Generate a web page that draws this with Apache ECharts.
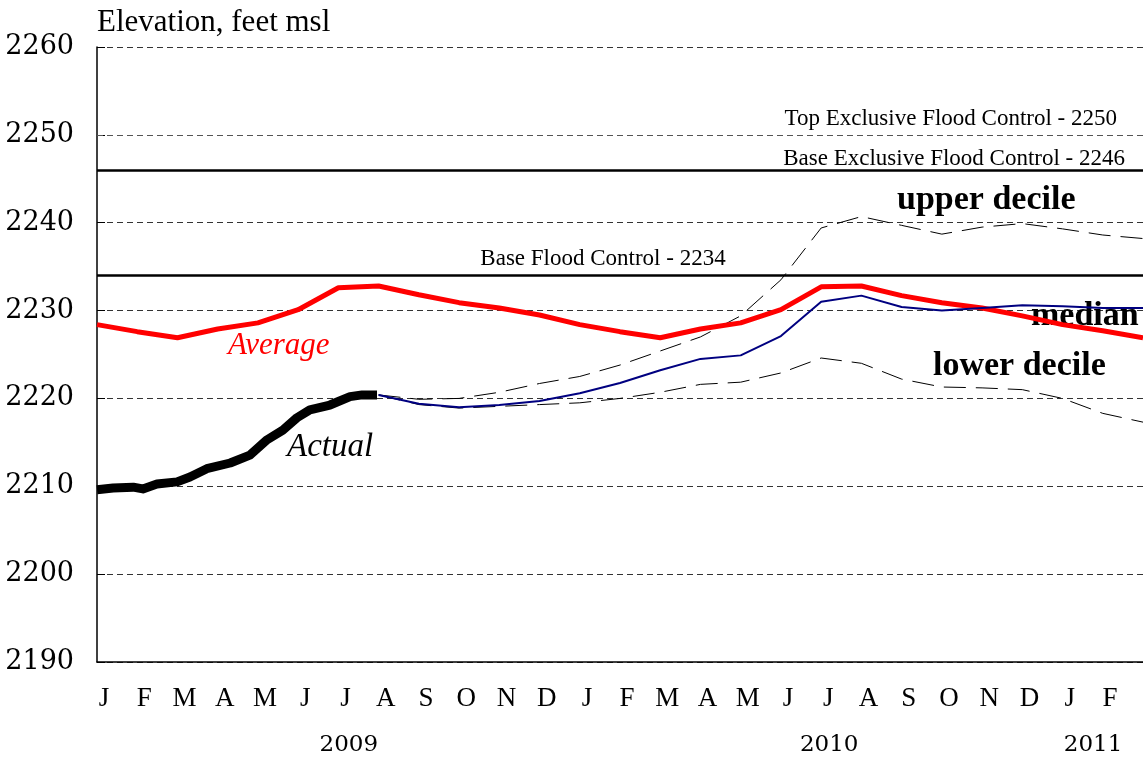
<!DOCTYPE html>
<html>
<head>
<meta charset="utf-8">
<title>Elevation</title>
<script src="https://cdn.jsdelivr.net/npm/echarts@6/dist/echarts.min.js"></script>
<style>
  html, body { margin: 0; padding: 0; background: #fff; }
  #chart { width: 1143px; height: 760px; }
</style>
</head>
<body>
<div id="chart"></div>
<script>
// month labels, Jan 2009 .. Feb 2011
var months = ['J','F','M','A','M','J','J','A','S','O','N','D','J','F','M','A','M','J','J','A','S','O','N','D','J','F'];
var years = ['2009', '2010', '2011'];
var yearPos = [6.26, 18.2, 24.76];   // in months from Jan 1 2009

// month-end values, index 0 = start of Jan 2009
var average = [2228.4, 2227.6, 2226.9, 2227.9, 2228.6, 2230.1, 2232.6, 2232.8, 2231.8, 2230.9, 2230.3, 2229.5, 2228.4,
               2227.6, 2226.9, 2227.9, 2228.6, 2230.1, 2232.7, 2232.8, 2231.7, 2230.9, 2230.3, 2229.4, 2228.4, 2227.7, 2226.9];
// forecasts start at index 7 (end of Jul 2009)
var forecastStart = 7;
var median = [2220.4, 2219.4, 2219.0, 2219.25, 2219.7, 2220.6, 2221.75, 2223.2, 2224.5, 2224.9, 2227.1,
              2231.0, 2231.7, 2230.4, 2230.0, 2230.3, 2230.6, 2230.5, 2230.3, 2230.3];
var upper = [2220.4, 2219.9, 2220.0, 2220.7, 2221.7, 2222.5, 2223.8, 2225.4, 2227.0, 2229.4, 2233.5,
             2239.4, 2240.7, 2239.7, 2238.7, 2239.5, 2239.9, 2239.3, 2238.6, 2238.2];
var lower = [2220.4, 2219.3, 2218.9, 2219.1, 2219.3, 2219.5, 2220.0, 2220.7, 2221.6, 2221.85, 2222.9,
             2224.6, 2224.0, 2222.2, 2221.3, 2221.2, 2221.0, 2220.0, 2218.3, 2217.3];
// observed elevation, [month, feet]
var actualT = [0, 0.4, 0.9, 1.14, 1.49, 1.99, 2.31, 2.73, 3.31, 3.8, 4.23, 4.62, 4.97, 5.29, 5.79, 6.29, 6.59, 6.96];
var actualV = [2209.6, 2209.8, 2209.9, 2209.7, 2210.25, 2210.5, 2211.05, 2212.0, 2212.65, 2213.55, 2215.3, 2216.4,
               2217.8, 2218.7, 2219.25, 2220.2, 2220.4, 2220.4];

var floodLevels = [2250, 2246, 2234];
var floodNames = ['Top Exclusive Flood Control - 2250', 'Base Exclusive Flood Control - 2246', 'Base Flood Control - 2234'];

function monthly(arr, start) {
    return arr.map(function (v, i) { return [i + start, v]; });
}

var serif = 'Liberation Serif';
var chart = echarts.init(document.getElementById('chart'));

var flLines = [
    { yAxis: floodLevels[0], lineStyle: { color: '#555', width: 1, type: [6, 4] },
      label: { position: 'insideEndTop', distance: 4, padding: [0, 22, 0, 0] } },
    { yAxis: floodLevels[1], lineStyle: { color: '#000', width: 2.5, type: 'solid' },
      label: { position: 'insideEndTop', distance: 0, padding: [0, 18, 0, 0] } },
    { yAxis: floodLevels[2], lineStyle: { color: '#000', width: 2.5, type: 'solid' },
      label: { position: 'insideMiddleTop', distance: 5, padding: [0, 34, 0, 0] } }
];
flLines.forEach(function (d, i) {
    d.label.formatter = floodNames[i];
    d.label.fontFamily = serif;
    d.label.fontSize = 23;
    d.label.color = '#000';
});

chart.setOption({
    animation: false,
    grid: [
        { left: 97, right: 0, top: 47, bottom: 98, containLabel: false, outerBoundsMode: 'none' },
        { left: 84, right: 13, top: 47, bottom: 98, containLabel: false, outerBoundsMode: 'none' }
    ],
    xAxis: [
        {
            type: 'value', gridIndex: 0, min: 0, max: 26,
            axisLine: { lineStyle: { color: '#000', width: 1.5 } },
            axisTick: { show: false },
            axisLabel: { show: false },
            splitLine: { show: false }
        },
        {
            type: 'category', gridIndex: 1, data: months, boundaryGap: true,
            axisLine: { show: false },
            axisTick: { show: false },
            axisLabel: { fontFamily: serif, fontSize: 27, color: '#000', margin: 23, interval: 0 }
        }
    ],
    yAxis: [
        {
            type: 'value', gridIndex: 0, min: 2190, max: 2260, interval: 10,
            name: 'Elevation, feet msl',
            nameLocation: 'end',
            nameGap: 9,
            nameTextStyle: { fontFamily: serif, fontSize: 31, color: '#000', align: 'left' },
            axisLine: { show: true, lineStyle: { color: '#000', width: 1.5 } },
            axisTick: { show: true, inside: true, length: 8, lineStyle: { color: '#000' } },
            axisLabel: { fontFamily: 'DejaVu Serif', fontSize: 27, color: '#000', margin: 23,
                         formatter: function (v) { return String(v); } },
            splitLine: { show: true, lineStyle: { color: '#333', width: 1, type: [6, 4] } }
        },
        { type: 'value', gridIndex: 1, show: false }
    ],
    series: [
        {
            name: 'upper decile', type: 'line', xAxisIndex: 0, yAxisIndex: 0,
            data: monthly(upper, forecastStart), symbol: 'none',
            lineStyle: { color: '#000', width: 1, type: [22, 10] },
            markLine: { silent: true, symbol: 'none', data: flLines }
        },
        {
            name: 'lower decile', type: 'line', data: monthly(lower, forecastStart), symbol: 'none',
            lineStyle: { color: '#000', width: 1, type: [22, 10] }
        },
        {
            name: 'Average', type: 'line', data: monthly(average, 0), symbol: 'none',
            lineStyle: { color: '#ff0000', width: 5 }
        },
        {
            name: 'median', type: 'line', data: monthly(median, forecastStart), symbol: 'none',
            lineStyle: { color: '#000080', width: 2 }
        },
        {
            name: 'Actual', type: 'line',
            data: actualT.map(function (t, i) { return [t, actualV[i]]; }),
            symbol: 'none',
            lineStyle: { color: '#000', width: 9, join: 'round', cap: 'butt' }
        }
    ]
});

// year captions and series notes
var g = [];
years.forEach(function (y, i) {
    var px = chart.convertToPixel({ xAxisIndex: 0 }, yearPos[i]);
    g.push({ type: 'text', x: px, y: 745, style: { text: y, font: '23px "DejaVu Serif"', fill: '#000', align: 'center', verticalAlign: 'middle' } });
});
var notes = [
    { text: 'upper decile', x: 897, y: 200, font: 'bold 34px "Liberation Serif"', fill: '#000' },
    { text: 'median', x: 1031, y: 316, font: 'bold 34px "Liberation Serif"', fill: '#000' },
    { text: 'lower decile', x: 933, y: 366, font: 'bold 34px "Liberation Serif"', fill: '#000' },
    { text: 'Average', x: 228, y: 346, font: 'italic 31px "Liberation Serif"', fill: '#ff0000' },
    { text: 'Actual', x: 287, y: 447, font: 'italic 33px "Liberation Serif"', fill: '#000' }
];
notes.forEach(function (n) {
    g.push({ type: 'text', x: n.x, y: n.y, style: { text: n.text, font: n.font, fill: n.fill, align: 'left', verticalAlign: 'middle' } });
});
chart.setOption({ graphic: g });
</script>
</body>
</html>
